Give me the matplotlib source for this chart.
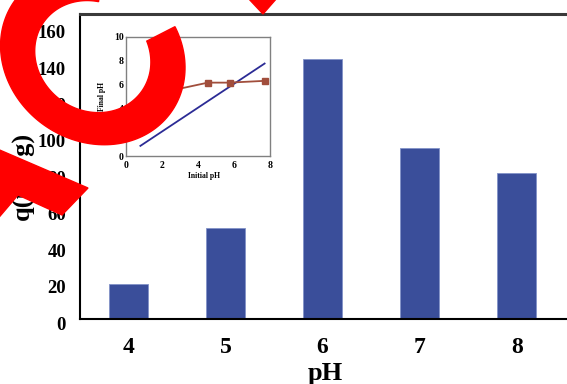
import matplotlib
matplotlib.use("Agg")
import matplotlib.pyplot as plt
import numpy as np
from matplotlib.patches import Polygon
from matplotlib.transforms import ScaledTranslation

# main chart: adsorption capacity vs pH
ph = [4, 5, 6, 7, 8]
q = [19, 50, 143, 94, 80]
y_ticks = [0, 20, 40, 60, 80, 100, 120, 140, 160]

# inset: final pH vs initial pH
initial_ph = [0.8, 1.8, 2.7, 4.55, 5.75, 7.7]
final_ph = [4.6, 5.1, 5.55, 6.15, 6.15, 6.3]
ref_initial = [0.8, 7.7]
ref_final = [0.85, 7.75]

W, H = 567, 384

plt.rcParams['font.family'] = ['Liberation Serif', 'DejaVu Serif']
plt.rcParams['font.weight'] = 'bold'
plt.rcParams['axes.labelweight'] = 'bold'

fig = plt.figure(figsize=(W / 100, H / 100), dpi=100)

ax = fig.add_axes([80 / W, 65 / H, 490 / W, 305 / H])
ax.bar(ph, q, width=0.4, color='#3a4e9a', edgecolor='#8292c8', linewidth=0.6)
ax.set_xlim(3.5, 8.55)
ax.set_ylim(0, 167.5)
ax.set_xticks(ph)
ax.set_yticks(y_ticks)
ax.tick_params(axis='x', length=0, pad=13, labelsize=17)
ax.tick_params(axis='y', length=0, pad=10, labelsize=13.5)
# labels sit a little below their ticks in the original
shift = ScaledTranslation(0, -0.04, fig.dpi_scale_trans)
for lab in ax.get_yticklabels():
    lab.set_transform(lab.get_transform() + shift)
ax.spines['right'].set_visible(False)
ax.spines['left'].set_linewidth(1.5)
ax.spines['bottom'].set_linewidth(1.5)
ax.spines['top'].set_linewidth(2.2)
ax.spines['top'].set_color('#3a3a3a')
ax.set_xlabel('pH', fontsize=19, labelpad=3)
ax.set_ylabel('q(mg/g)', fontsize=19, va='center')
ax.yaxis.set_label_coords(-0.115, 0.47)

# inset
ins = fig.add_axes([126 / W, 228 / H, 144 / W, 119.3 / H])
ins.plot(ref_initial, ref_final, color='#2b2b95', lw=1.3)
ins.plot(initial_ph, final_ph, color='#a14e3c', lw=1.3, marker='s',
         markersize=4, markeredgecolor='#a14e3c')
ins.set_xlim(0, 8)
ins.set_ylim(0, 10)
ins.set_xticks([0, 2, 4, 6, 8])
ins.set_yticks([0, 2, 4, 6, 8, 10])
ins.tick_params(axis='x', length=0, pad=3.5, labelsize=7)
ins.tick_params(axis='y', length=0, pad=1.5, labelsize=7)
for s in ins.spines.values():
    s.set_color('#808080')
    s.set_linewidth(1.0)
ins.set_xlabel('Initial pH', fontsize=5.5)
ins.set_ylabel('Final pH', fontsize=5.5, va='center')
ins.xaxis.set_label_coords(0.54, -0.13)
ins.yaxis.set_label_coords(-0.17, 0.5)


def ellipse_r(theta, a, b, tilt):
    t = theta - tilt
    return a * b / np.sqrt((b * np.cos(t)) ** 2 + (a * np.sin(t)) ** 2)


def c_shape(cx, cy, outer, inner, start, end_out, end_in, tilt):
    t_out = np.radians(np.linspace(start, end_out, 160))
    t_in = np.radians(np.linspace(end_in, start, 160))
    tilt = np.radians(tilt)
    r_out = ellipse_r(t_out, *outer, tilt)
    r_in = ellipse_r(t_in, *inner, tilt)
    xs = np.concatenate([cx + r_out * np.cos(t_out), cx + r_in * np.cos(t_in)])
    ys = np.concatenate([cy - r_out * np.sin(t_out), cy - r_in * np.sin(t_in)])
    return np.column_stack([xs, ys])


# red overlay shapes on top of the whole picture (pixel coordinates, y down)
over = fig.add_axes([0, 0, 1, 1], zorder=10)
over.set_xlim(0, W)
over.set_ylim(H, 0)
over.set_axis_off()
over.patch.set_alpha(0)
red = '#ff0000'
over.add_patch(Polygon(c_shape(92.8, 56.6, (96, 84), (60, 54), 84, 380, 376, 145),
                       closed=True, color=red))
over.add_patch(Polygon([(-5, 148), (88, 188), (62, 215), (18, 195), (-5, 222)],
                       closed=True, color=red))
over.add_patch(Polygon([(248, -2), (277, -2), (263, 14)], closed=True, color=red))

fig.savefig('out.png', dpi=100)
